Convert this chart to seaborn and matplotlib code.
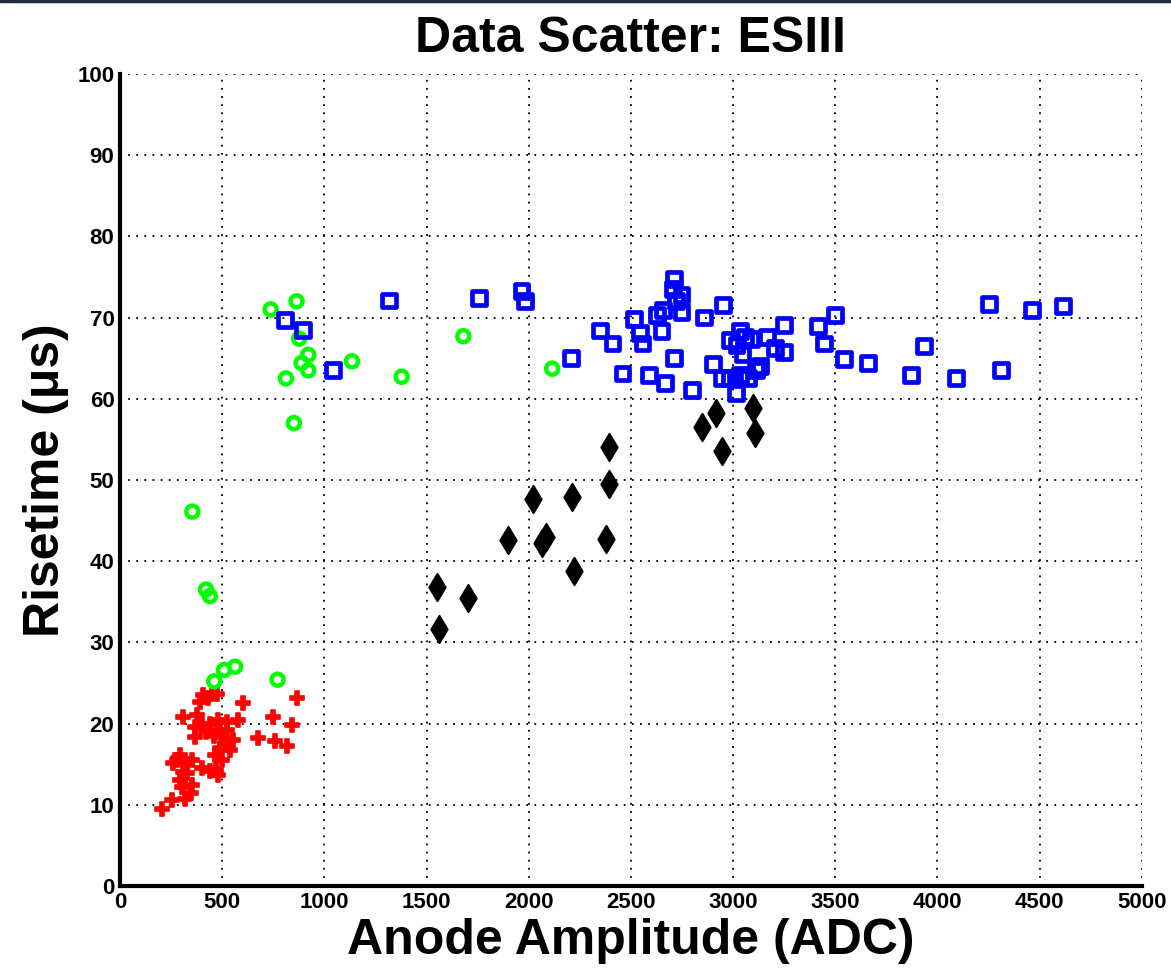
import numpy as np
import pandas as pd
import matplotlib
matplotlib.use("Agg")
import matplotlib.pyplot as plt
import seaborn as sns

# red group (plus markers)
red_x = [203, 253, 318, 302, 294, 351, 260, 294, 351, 326, 400, 440, 481, 465, 489, 514, 553, 538,
         310, 375, 367, 367, 400, 440, 479, 522, 577, 489, 522, 391, 406, 449, 473, 602, 675, 758,
         816, 749, 840, 864, 330, 310, 280, 345, 420, 460, 500, 430, 470, 500]
red_y = [9.5, 10.6, 10.7, 12.2, 13.0, 12.4, 15.2, 16.1, 15.5, 13.9, 14.5, 14.1, 13.7, 16.1, 17.0, 17.4,
         18.0, 16.7, 20.8, 21.0, 19.6, 18.4, 19.8, 20.0, 20.4, 20.2, 20.4, 19.2, 19.2, 22.7, 23.5, 23.7,
         23.7, 22.5, 18.2, 17.8, 17.2, 20.8, 19.8, 23.1, 15.0, 14.0, 15.5, 11.5, 19.0, 18.5, 15.5, 23.2,
         14.3, 18.3]

# green group (open circles)
green_x = [737, 864, 877, 921, 889, 921, 812, 851, 1135, 1378, 1680, 2115,
           461, 509, 563, 771, 354, 421, 440]
green_y = [71.0, 72.0, 67.4, 65.4, 64.4, 63.5, 62.5, 57.0, 64.6, 62.7, 67.7, 63.7,
           25.2, 26.6, 27.0, 25.4, 46.1, 36.5, 35.7]

# blue group (open squares)
blue_x = [807, 897, 1044, 1318, 1756, 1965, 1982, 2205, 2348, 2410, 2459, 2515, 2544, 2557, 2590,
          2666, 2710, 2630, 2650, 2658, 2712, 2707, 2748, 2723, 2748, 2800, 2857, 2952, 2900, 2947,
          3014, 3046, 2984, 3033, 3017, 3058, 3090, 2984, 3033, 3072, 3114, 3131, 3167, 3204, 3249,
          3249, 3416, 3444, 3498, 3543, 3661, 3870, 3935, 4090, 4253, 4312, 4465, 4615]
blue_y = [69.7, 68.5, 63.5, 72.1, 72.4, 73.3, 72.0, 65.0, 68.4, 66.8, 63.1, 69.8, 68.1, 66.8, 62.9,
          61.9, 65.0, 70.3, 68.3, 70.9, 74.7, 73.5, 72.8, 72.0, 70.7, 61.1, 70.0, 71.5, 64.3, 62.6,
          60.7, 65.5, 67.2, 68.3, 66.6, 67.6, 67.3, 62.5, 62.9, 62.5, 63.5, 64.0, 67.6, 66.2, 65.7,
          69.1, 68.9, 66.8, 70.3, 64.9, 64.4, 62.9, 66.5, 62.6, 71.7, 63.5, 70.9, 71.4]

# black group (diamonds)
black_x = [1552, 1562, 1704, 1900, 2019, 2063, 2084, 2210, 2223, 2378, 2394, 2392,
           2847, 2916, 2948, 3098, 3106]
black_y = [36.8, 31.6, 35.5, 42.6, 47.7, 42.2, 43.0, 47.9, 38.8, 42.7, 54.1, 49.5,
           56.5, 58.3, 53.6, 58.9, 55.8]

x_ticks = [0, 500, 1000, 1500, 2000, 2500, 3000, 3500, 4000, 4500, 5000]
y_ticks = [0, 10, 20, 30, 40, 50, 60, 70, 80, 90, 100]

sns.set_style("white")
plt.rcParams['font.family'] = ['Liberation Sans', 'DejaVu Sans']
plt.rcParams['text.color'] = 'black'
plt.rcParams['axes.labelcolor'] = 'black'
plt.rcParams['xtick.color'] = 'black'
plt.rcParams['ytick.color'] = 'black'

fig = plt.figure(figsize=(11.71, 9.72), dpi=100)
ax = fig.add_axes([0.1025, 0.0885, 0.8725, 0.8355])

sns.scatterplot(x=red_x, y=red_y, ax=ax, marker='P', s=95, color='#ff0000',
                edgecolor='#ff0000', linewidth=1.2, zorder=3)
sns.scatterplot(x=green_x, y=green_y, ax=ax, marker='o', s=75, facecolor='none',
                edgecolor='#00ff00', linewidth=3.2, zorder=3)
sns.scatterplot(x=blue_x, y=blue_y, ax=ax, marker='s', s=100, facecolor='none',
                edgecolor='#0000ff', linewidth=3.4, zorder=3)
sns.scatterplot(x=black_x, y=black_y, ax=ax, marker='d', s=190, color='black',
                edgecolor='black', linewidth=1.5, zorder=3)

ax.set_xlim(0, 5000)
ax.set_ylim(0, 100)
ax.set_xticks(x_ticks)
ax.set_yticks(y_ticks)
ax.set_xticklabels([str(v) for v in x_ticks], fontsize=16, fontweight='bold')
ax.set_yticklabels([str(v) for v in y_ticks], fontsize=16, fontweight='bold')
ax.tick_params(direction='in', length=8, width=3, pad=4)

ax.grid(True, linestyle=(0, (1, 3.5)), color='black', linewidth=1.3)
ax.set_axisbelow(True)

for side in ['top', 'right']:
    ax.spines[side].set_visible(False)
for side in ['left', 'bottom']:
    ax.spines[side].set_linewidth(3)
    ax.spines[side].set_color('black')

ax.set_title("Data Scatter: ESIII", fontsize=36, fontweight='bold', pad=16)
ax.set_xlabel("Anode Amplitude (ADC)", fontsize=36, fontweight='bold', labelpad=4)
ax.set_ylabel("Risetime (μs)", fontsize=36, fontweight='bold', labelpad=6)

# thin dark frame line at the very top of the image
fig.add_artist(plt.Line2D([0, 1], [0.999, 0.999], color='#1f2a3a', linewidth=2.5,
                          transform=fig.transFigure))

fig.savefig("out.png", dpi=100)
